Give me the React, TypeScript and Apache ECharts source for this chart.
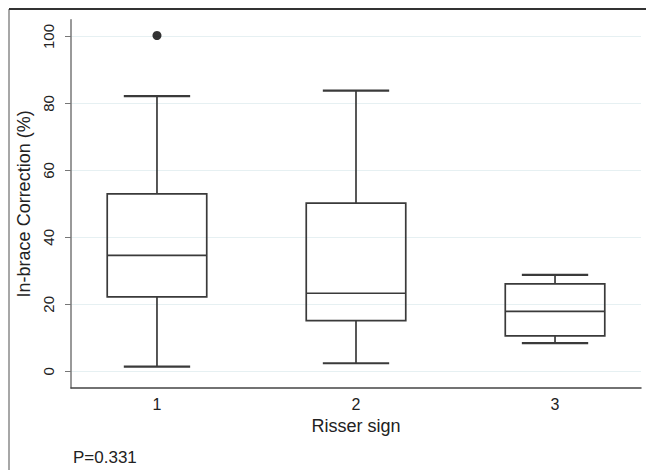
import React, { useEffect, useRef } from "react";
import * as echarts from "echarts";

const categories = [1, 2, 3];
const lowWhisker = [1.4, 2.4, 8.4];
const q1 = [22.2, 15.1, 10.6];
const median = [34.6, 23.3, 17.9];
const q3 = [53.0, 50.2, 26.1];
const highWhisker = [82.2, 83.8, 28.8];
const outliers: [number, number][] = [[1, 100.3]];
const yTicks = [0, 20, 40, 60, 80, 100];
const xTitle = "Risser sign";
const yTitle = "In-brace Correction (%)";
const note = "P=0.331";

const FONT = "'Liberation Sans', Arial, Helvetica, sans-serif";
const LINE = "#3a3a3a";

export default function App() {
  const ref = useRef<HTMLDivElement>(null);
  useEffect(() => {
    if (!ref.current) return;
    const chart = echarts.init(ref.current, null, { renderer: "svg" });
    const boxData = categories.map((c, i) => [c, lowWhisker[i], q1[i], median[i], q3[i], highWhisker[i]]);
    const option: any = {
      animation: false,
      backgroundColor: "#ffffff",
      grid: { left: 71, right: 5, top: 19.75, bottom: 82, containLabel: false },
      xAxis: {
        type: "value",
        min: 0.568,
        max: 3.432,
        name: xTitle,
        nameLocation: "middle",
        nameGap: 25,
        nameTextStyle: { fontFamily: FONT, fontSize: 18, color: "#222" },
        axisLine: { show: true, onZero: false, lineStyle: { color: "#444", width: 1.5 } },
        axisTick: { show: false },
        splitLine: { show: false },
        axisLabel: {
          customValues: categories,
          margin: 8,
          fontFamily: FONT,
          fontSize: 16,
          color: "#222",
        },
      },
      yAxis: {
        type: "value",
        min: -5,
        max: 105,
        name: yTitle,
        nameLocation: "middle",
        nameRotate: 90,
        nameGap: 34,
        nameTextStyle: { fontFamily: FONT, fontSize: 18, color: "#222" },
        axisLine: { show: true, lineStyle: { color: "#777", width: 1.5 } },
        axisTick: { show: true, customValues: yTicks, length: 6, lineStyle: { color: "#777", width: 1 } },
        splitLine: { show: true, lineStyle: { color: "#e6f0f2", width: 1.2 } },
        axisLabel: {
          customValues: yTicks,
          rotate: 90,
          margin: 15,
          fontFamily: FONT,
          fontSize: 15,
          color: "#222",
        },
      },
      series: [
        {
          type: "custom",
          data: boxData,
          encode: { x: 0, y: [1, 2, 3, 4, 5] },
          renderItem: (params: any, api: any) => {
            const x = api.value(0);
            const pLow = api.coord([x, api.value(1)]);
            const pQ1 = api.coord([x, api.value(2)]);
            const pMed = api.coord([x, api.value(3)]);
            const pQ3 = api.coord([x, api.value(4)]);
            const pHigh = api.coord([x, api.value(5)]);
            const halfBox = api.size([0.25, 0])[0];
            const halfCap = api.size([1 / 6, 0])[0];
            const style = { stroke: LINE, lineWidth: 1.7, fill: "none" };
            const cx = pMed[0];
            return {
              type: "group",
              children: [
                { type: "line", shape: { x1: cx, y1: pQ3[1], x2: cx, y2: pHigh[1] }, style },
                { type: "line", shape: { x1: cx, y1: pQ1[1], x2: cx, y2: pLow[1] }, style },
                { type: "line", shape: { x1: cx - halfCap, y1: pHigh[1], x2: cx + halfCap, y2: pHigh[1] }, style: { ...style, lineWidth: 2.2 } },
                { type: "line", shape: { x1: cx - halfCap, y1: pLow[1], x2: cx + halfCap, y2: pLow[1] }, style: { ...style, lineWidth: 2.2 } },
                {
                  type: "rect",
                  shape: { x: cx - halfBox, y: pQ3[1], width: halfBox * 2, height: pQ1[1] - pQ3[1] },
                  style,
                },
                { type: "line", shape: { x1: cx - halfBox, y1: pMed[1], x2: cx + halfBox, y2: pMed[1] }, style },
              ],
            };
          },
          z: 3,
        },
        {
          type: "scatter",
          data: outliers,
          symbol: "circle",
          symbolSize: 9,
          itemStyle: { color: "#000" },
          z: 4,
        },
      ],
      graphic: [
        { type: "line", shape: { x1: 9, y1: 9, x2: 9, y2: 470 }, style: { stroke: "#8a8a8a", lineWidth: 1.5 } },
        { type: "line", shape: { x1: 9, y1: 9, x2: 646, y2: 9 }, style: { stroke: "#333", lineWidth: 2 } },
        {
          type: "text",
          left: 73,
          top: 449,
          style: { text: note, fontFamily: FONT, fontSize: 17, fill: "#222" },
        },
      ],
    };
    chart.setOption(option);
    return () => chart.dispose();
  }, []);
  return (
    <div
      ref={ref}
      style={{ position: "absolute", left: 0, top: 0, width: 646, height: 470 }}
    />
  );
}
